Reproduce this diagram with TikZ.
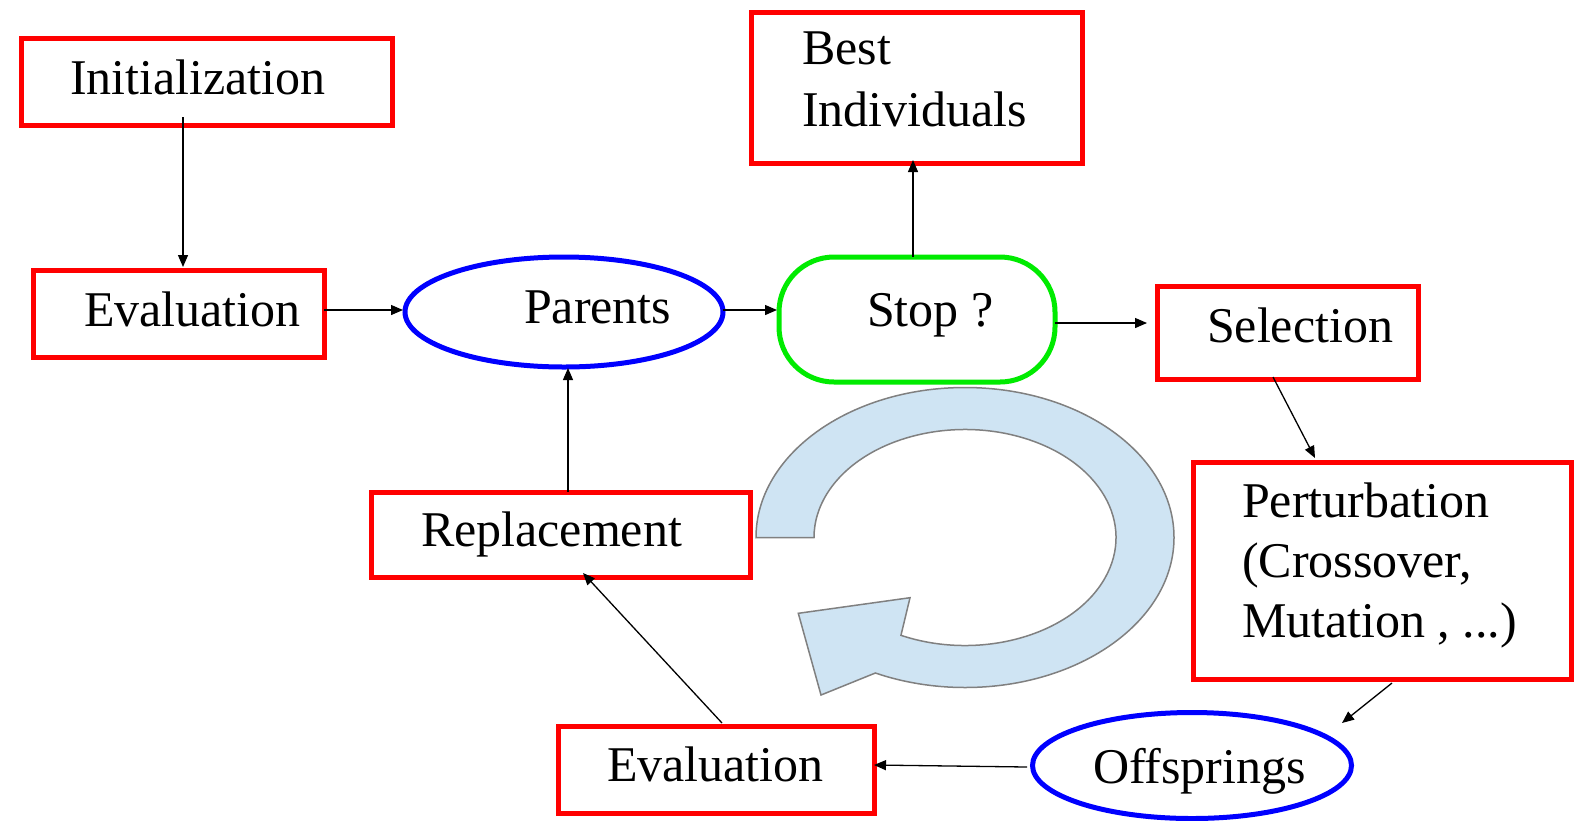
\documentclass[tikz,border=0pt]{standalone}
\usepackage{fontspec}
\setmainfont{Liberation Serif}
\usetikzlibrary{arrows.meta,shapes.geometric,calc}
\definecolor{boxred}{RGB}{255,0,0}
\definecolor{ellblue}{RGB}{0,0,255}
\definecolor{stopgreen}{RGB}{0,235,0}
\definecolor{cycfill}{RGB}{207,228,243}
\definecolor{cycdraw}{RGB}{128,128,128}
\tikzset{
  redbox/.style={draw=boxred, line width=5pt, rectangle, inner sep=0pt, outer sep=0pt},
  blueell/.style={draw=ellblue, line width=5pt, ellipse, inner sep=0pt, outer sep=0pt},
  stopbox/.style={draw=stopgreen, line width=5pt, rectangle, rounded corners=55pt, inner sep=0pt, outer sep=0pt},
  lbl/.style={anchor=base west, inner sep=0pt, outer sep=0pt, font=\fontsize{50}{60}\selectfont},
  conn/.style={draw=black, line width=1.3pt, -{Triangle[length=12pt,width=10pt]}},
  cyc/.style={fill=cycfill, draw=cycdraw, line width=1.5pt, line join=miter}
}
\begin{document}
\begin{tikzpicture}[x=1pt, y=-1pt]
\useasboundingbox (0,0) rectangle (1581,820);
\fill[white] (0,0) rectangle (1581,820);

% circular arrow
\draw[cyc] (756,537.5)
  arc[start angle=180, end angle=475.4, x radius=209, y radius=150]
  -- (821,695) -- (798.3,613.3) -- (910,597.7)
  -- ($(965,537.5)+(475.1:151 and 108)$)
  arc[start angle=475.1, end angle=180, x radius=151, y radius=108]
  -- cycle;

% shapes
\node[redbox, minimum width=371pt, minimum height=87pt] (init) at (206.5,81.5) {};
\node[redbox, minimum width=291pt, minimum height=87pt] (evalA) at (178.5,313.5) {};
\node[redbox, minimum width=331pt, minimum height=151pt] (best) at (916.5,87.5) {};
\node[stopbox, minimum width=276pt, minimum height=125pt] (stop) at (917,319.5) {};
\node[redbox, minimum width=261pt, minimum height=93pt] (sel) at (1287.5,332.5) {};
\node[redbox, minimum width=378pt, minimum height=217pt] (pert) at (1382,570.5) {};
\node[redbox, minimum width=379pt, minimum height=85pt] (repl) at (560.5,534.5) {};
\node[redbox, minimum width=316pt, minimum height=87pt] (evalB) at (716,769.5) {};
\node[blueell, minimum width=318pt, minimum height=110pt] (parents) at (564,312) {};
\node[blueell, minimum width=319pt, minimum height=106pt] (offs) at (1192,765.5) {};

% texts
\node[lbl] (tInit) at (70,94) {Initialization};
\node[lbl] (tEvalA) at (84,326) {Evaluation};
\node[lbl] (tParents) at (524,323) {Parents};
\node[lbl] (tStop) at (867,326) {Stop ?};
\node[lbl] (tBest1) at (802,64) {Best};
\node[lbl] (tBest2) at (802,126) {Individuals};
\node[lbl] (tSel) at (1207,342) {Selection};
\node[lbl] (tPert1) at (1242,517) {Perturbation};
\node[lbl] (tPert2) at (1242,577) {(Crossover,};
\node[lbl] (tPert3) at (1242,637) {Mutation , ...)};
\node[lbl] (tOffs) at (1093,783) {Offsprings};
\node[lbl] (tEvalB) at (607,781) {Evaluation};
\node[lbl] (tRepl) at (421,546) {Replacement};

% connectors
\draw[conn] ($(init.south)+(-23.5,-8)$) -- ($(evalA.north)+(4.5,-3)$);
\draw[conn] ($(evalA.east)+(0,-3.5)$) -- ($(parents.west)+(-2,-2)$);
\draw[conn] ($(parents.east)+(0,-2)$) -- ($(stop.west)+(-2,-9.5)$);
\draw[conn] ($(stop.east)+(0,3.5)$) -- ($(sel.west)+(-10,-9.5)$);
\draw[conn] ($(stop.north)+(-4,0)$) -- ($(best.south)+(-3.5,-3)$);
\draw[conn] ($(sel.south)+(-14.5,-2)$) -- ($(pert.north)+(-67,-4)$);
\draw[conn] ($(pert.south)+(10,4)$) -- ($(offs.center)+(150,-42.5)$);
\draw[conn] ($(offs.west)+(-5.5,1.5)$) -- ($(evalB.east)+(0,-4.5)$);
\draw[conn] ($(evalB.north)+(6,-3)$) -- ($(repl.south)+(22.5,-4)$);
\draw[conn] ($(repl.north)+(7.5,0)$) -- ($(parents.south)+(4,1)$);
\end{tikzpicture}
\end{document}
